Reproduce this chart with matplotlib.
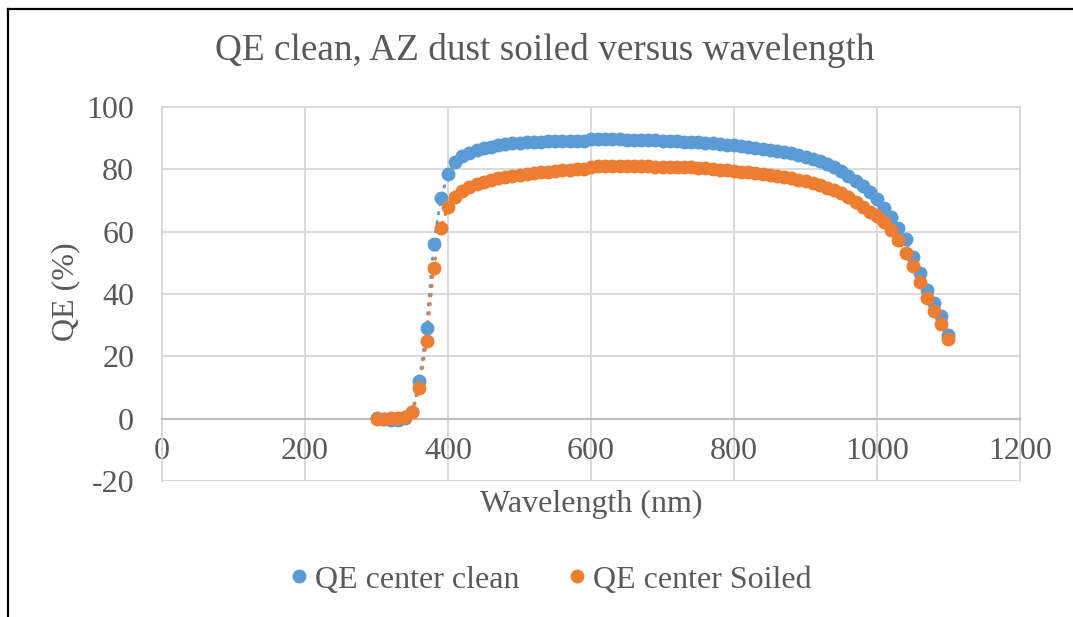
import numpy as np
import matplotlib.pyplot as plt
from matplotlib.lines import Line2D

plt.rcParams['font.family'] = ['Liberation Serif', 'DejaVu Serif']
plt.rcParams['axes.unicode_minus'] = False

wavelength = list(range(300, 1101, 10))

qe_clean = [0.1, -0.1, -0.3, -0.3, 0.1, 2.3, 12.0, 29.1, 55.9, 70.8,
            78.5, 82.2, 84.3, 85.3, 86.1, 86.8, 87.3, 87.7, 88.0, 88.3,
            88.5, 88.7, 88.8, 88.9, 89.0, 89.0, 89.0, 89.1, 89.1, 89.1,
            89.7, 89.8, 89.7, 89.6, 89.6, 89.5, 89.5, 89.4, 89.4, 89.3,
            89.2, 89.1, 89.0, 88.9, 88.9, 88.7, 88.5, 88.3, 88.1, 87.9,
            87.7, 87.4, 87.1, 86.8, 86.5, 86.2, 85.9, 85.5, 85.1, 84.6,
            84.0, 83.4, 82.6, 81.7, 80.6, 79.4, 78.0, 76.4, 74.6, 72.6,
            70.5, 67.7, 64.8, 61.3, 57.7, 52.0, 46.8, 41.4, 37.0, 32.8,
            27.0]

qe_soiled = [-0.1, -0.1, 0.1, 0.3, 0.5, 2.0, 9.8, 25.0, 48.4, 61.2,
             68.0, 71.2, 73.0, 74.2, 75.2, 76.0, 76.6, 77.1, 77.4, 77.8,
             78.2, 78.5, 78.8, 79.1, 79.3, 79.5, 79.7, 79.8, 80.0, 80.2,
             80.9, 81.0, 81.0, 81.0, 81.0, 81.0, 81.0, 81.0, 81.0, 80.9,
             80.9, 80.9, 80.8, 80.7, 80.6, 80.5, 80.3, 80.1, 79.9, 79.7,
             79.5, 79.3, 79.1, 78.8, 78.5, 78.2, 77.9, 77.5, 77.1, 76.6,
             76.1, 75.5, 74.9, 74.1, 73.3, 72.3, 71.0, 69.6, 68.0, 66.4,
             65.0, 63.0, 60.5, 57.2, 53.2, 48.9, 43.8, 38.7, 34.5, 30.4,
             25.6]

series_names = ['QE center clean', 'QE center Soiled']
colors = ['#5B9BD5', '#ED7D31']
grey_text = '#595959'

fig = plt.figure(figsize=(10.73, 6.17), dpi=100)
ax = fig.add_axes([0.151, 0.2204, 0.7996, 0.6062])

for y, c in zip([qe_clean, qe_soiled], colors):
    ax.plot(wavelength, y, color=c, lw=2.2, ls=(0, (0.4, 2.6)),
            dash_capstyle='round', zorder=2)
    ax.plot(wavelength, y, ls='none', marker='o', ms=9, color=c,
            mec=c, zorder=3)

ax.set_xlim(0, 1200)
ax.set_ylim(-20, 100)
ax.set_xticks(range(0, 1201, 200))
ax.set_yticks(range(-20, 101, 20))
ax.grid(True, color='#D9D9D9', lw=1.4, zorder=0)
ax.set_axisbelow(True)

for side in ['top', 'right', 'left']:
    ax.spines[side].set_color('#D9D9D9')
    ax.spines[side].set_linewidth(1.4)
ax.spines['bottom'].set_position(('data', 0))
ax.spines['bottom'].set_color('#BFBFBF')
ax.spines['bottom'].set_linewidth(1.6)
ax.axhline(-20, color='#D9D9D9', lw=1.4, zorder=0)

ax.tick_params(axis='both', length=0, labelsize=23, labelcolor=grey_text)
ax.tick_params(axis='y', pad=20)
ax.tick_params(axis='x', pad=13)

fig.text(0.508, 0.918, 'QE clean, AZ dust soiled versus wavelength',
         ha='center', va='center', fontsize=26.8, color=grey_text)
fig.text(0.061, 0.527, 'QE (%)', rotation=90, ha='center', va='center',
         fontsize=23, color=grey_text)
fig.text(0.551, 0.182, 'Wavelength (nm)', ha='center', va='center',
         fontsize=23, color=grey_text)

handles = [Line2D([], [], ls='none', marker='o', ms=9, color=c)
           for c in colors]
fig.legend(handles, series_names, loc='center', bbox_to_anchor=(0.51, 0.06),
           ncol=2, frameon=False, fontsize=23, labelcolor=grey_text,
           handletextpad=0.0, columnspacing=1.3, handlelength=1.0)

# outer chart frame (left and top edges)
fig.add_artist(Line2D([0.0075, 0.0075], [0.0, 0.985], transform=fig.transFigure,
                      color='black', lw=1.6))
fig.add_artist(Line2D([0.0075, 1.0], [0.985, 0.985], transform=fig.transFigure,
                      color='black', lw=1.6))

fig.savefig('out.png', dpi=100, facecolor='white')
